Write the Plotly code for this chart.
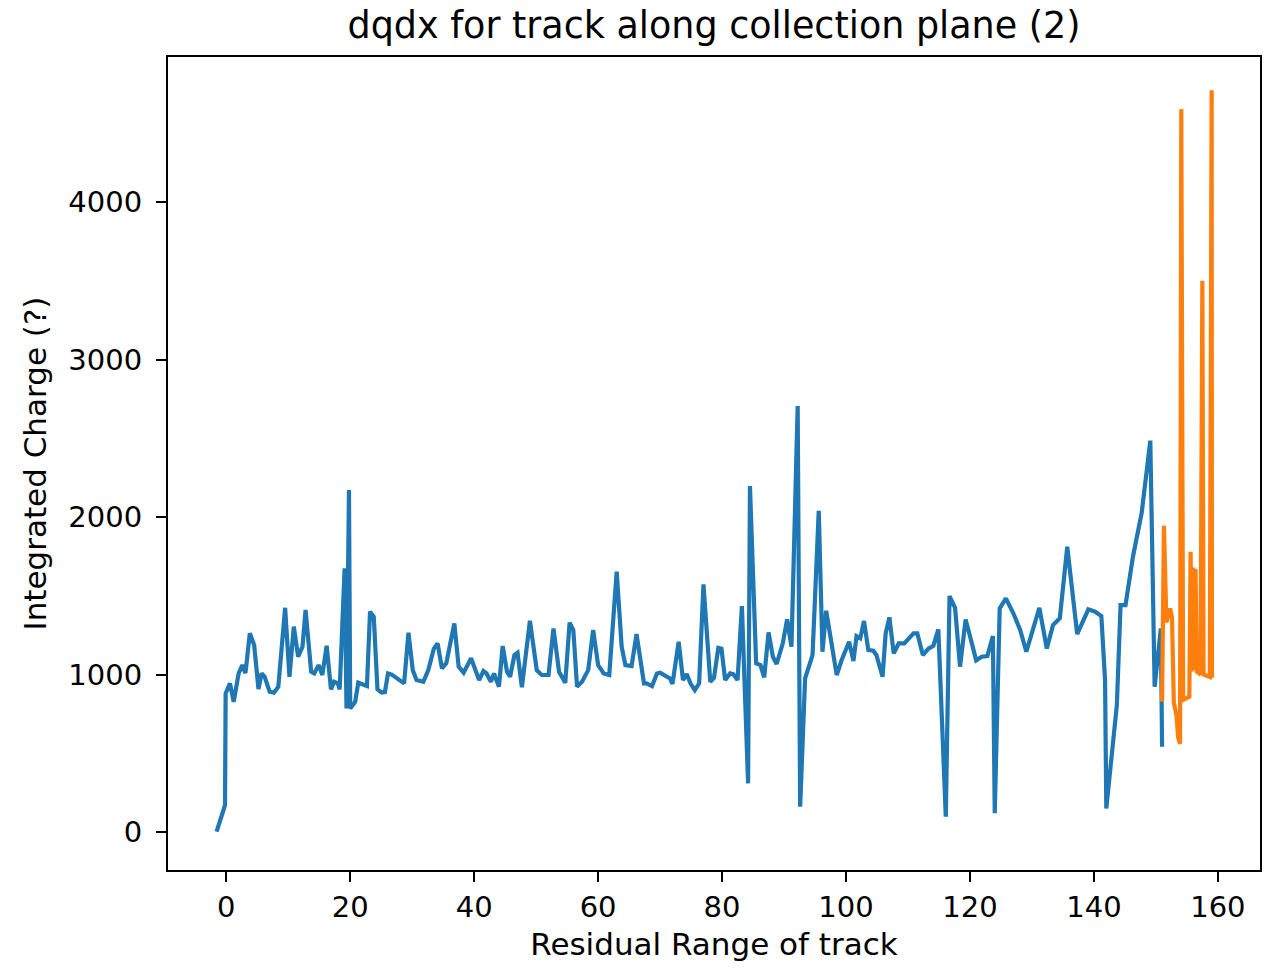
import plotly.graph_objects as go

# Blue series (collection plane track, main part)
blue_x = [-1.56, -0.2, -0.1, 0.6, 1.2, 2.0, 2.6, 3.1, 3.8, 4.5, 5.2, 5.7, 6.2, 7.0, 7.7, 8.4,
          9.5, 10.2, 10.9, 11.6, 12.3, 12.8, 13.7, 14.2, 14.9, 15.5, 16.2, 16.9, 17.4, 18.0,
          18.3, 19.1, 19.4, 19.8, 20.0, 20.8, 21.3, 22.0, 22.7, 23.2, 23.8, 24.4, 25.1, 25.6,
          26.1, 26.7, 27.7, 28.7, 29.4, 30.1, 30.7, 31.8, 32.6, 33.5, 34.1, 34.8, 35.5, 36.8,
          37.5, 38.3, 39.5, 40.2, 40.8, 41.5, 42.0, 42.7, 43.2, 44.0, 44.6, 45.3, 45.8, 46.5,
          47.0, 47.7, 48.4, 49.0, 50.1, 50.9, 52.0, 52.8, 53.7, 54.7, 55.4, 56.0, 56.6, 57.4,
          58.4, 59.2, 60.0, 60.9, 61.8, 63.0, 63.8, 64.4, 65.4, 66.2, 67.4, 67.8, 68.7, 69.5,
          70.0, 70.8, 71.6, 72.0, 73.0, 73.7, 74.3, 74.9, 75.6, 76.3, 77.0, 78.1, 78.7, 79.4,
          79.9, 80.5, 81.3, 81.8, 82.5, 83.2, 83.7, 84.2, 84.5, 85.5, 86.2, 86.8, 87.5, 88.2,
          88.8, 89.8, 90.5, 91.2, 92.2, 92.6, 93.4, 94.6, 95.6, 96.2, 96.8, 97.6, 98.5, 99.3,
          100.5, 101.2, 101.7, 102.3, 102.9, 103.6, 104.4, 104.9, 105.9, 106.4, 107.0, 107.7,
          108.5, 109.4, 110.9, 111.5, 112.4, 113.3, 114.1, 114.9, 116.1, 116.7, 117.6, 118.4,
          119.3, 120.2, 121.0, 121.9, 122.8, 123.7, 124.0, 124.8, 125.8, 127.0, 128.1, 129.1,
          131.2, 132.4, 133.4, 134.5, 135.7, 137.3, 139.1, 140.2, 141.2, 141.8, 142.0, 143.7,
          144.3, 145.1, 146.3, 147.7, 149.1, 149.8, 150.8, 151.0]
blue_y = [2, 171, 880, 944, 827, 1007, 1060, 1009, 1262, 1187, 908, 1007, 986, 891, 885, 923,
          1424, 986, 1304, 1113, 1177, 1410, 1018, 1007, 1060, 997, 1183, 906, 954, 944,
          906, 1674, 785, 2171, 785, 827, 948, 940, 927, 1399, 1367, 906, 885, 888,
          1007, 1000, 969, 944, 1266, 1028, 965, 954, 1028, 1165, 1198, 1039, 1071, 1325,
          1050, 1012, 1103, 1018, 965, 1022, 1007, 954, 1007, 923, 1181, 1018, 986, 1124,
          1138, 919, 1134, 1342, 1028, 997, 997, 1293, 1018, 948, 1329, 1283, 923, 954,
          1028, 1283, 1060, 1007, 997, 1653, 1177, 1060, 1054, 1257, 944, 944, 927, 1007,
          1012, 990, 975, 940, 1208, 965, 1003, 944, 901, 944, 1572, 954, 980, 1170,
          1165, 965, 1007, 1003, 965, 1435, 880, 309, 2197, 1071, 1060, 982, 1268, 1113,
          1067, 1198, 1350, 1177, 2705, 161, 975, 1124, 2040, 1145, 1405, 1230, 997, 1092,
          1208, 1086, 1244, 1230, 1340, 1156, 1151, 1124, 986, 1262, 1363, 1134,
          1198, 1198, 1262, 1262, 1124, 1165, 1183, 1287, 97, 1498, 1424, 1050,
          1350, 1215, 1090, 1113, 1117, 1244, 119, 1420, 1484, 1389, 1283, 1145,
          1424, 1165, 1314, 1357, 1811, 1257, 1414, 1399, 1371, 965, 150, 806,
          1441, 1441, 1748, 2024, 2485, 923, 1293, 542]

# Orange series (end of track)
orange_x = [151.0, 151.3, 151.7, 152.3, 152.6, 152.9, 153.3, 153.6, 153.9, 154.1, 154.4, 154.9,
            155.4, 155.6, 155.8, 156.0, 156.2, 156.4, 156.6, 156.9, 157.2, 157.5, 157.7, 158.0,
            158.4, 158.7, 159.0, 159.05]
orange_y = [827, 1945, 1330, 1420, 1360, 820, 750, 600, 560, 4590, 840, 850,
            860, 1780, 1020, 1680, 1030, 1670, 1020, 1010, 1000, 3500, 1000, 995,
            990, 985, 4710, 980]

x_ticks = [0, 20, 40, 60, 80, 100, 120, 140, 160]
y_ticks = [0, 1000, 2000, 3000, 4000]

FONT = "DejaVu Sans"
W, H = 1281, 969

fig = go.Figure()
fig.add_trace(go.Scatter(x=blue_x, y=blue_y, mode="lines",
                         line=dict(color="#1f77b4", width=4.2), showlegend=False))
fig.add_trace(go.Scatter(x=orange_x, y=orange_y, mode="lines",
                         line=dict(color="#ff7f0e", width=4.2), showlegend=False))

axis_common = dict(showgrid=False, zeroline=False, showline=True, linecolor="black",
                   linewidth=2.2, mirror=True, ticks="outside", ticklen=10, tickwidth=2.2,
                   tickcolor="black", tickfont=dict(family=FONT, size=29, color="black"))

fig.update_xaxes(range=[-9.4, 166.8], tickvals=x_ticks, ticktext=[str(v) for v in x_ticks],
                 title=dict(text="Residual Range of track",
                            font=dict(family=FONT, size=31, color="black"), standoff=10),
                 **axis_common)
fig.update_yaxes(range=[-241, 4921], tickvals=y_ticks, ticktext=[str(v) for v in y_ticks],
                 ticklabelstandoff=8,
                 title=dict(text="Integrated Charge (?)",
                            font=dict(family=FONT, size=31, color="black"), standoff=12),
                 **axis_common)

fig.update_layout(
    width=W, height=H,
    margin=dict(l=168, r=21, t=57, b=99, autoexpand=False),
    paper_bgcolor="white", plot_bgcolor="white",
    title=dict(text="dqdx for track along collection plane (2)", x=0.5, xref="paper",
               xanchor="center", y=1 - 25 / H, yref="container", yanchor="middle",
               font=dict(family=FONT, size=36.5, color="black")),
)

fig.write_html("out.html", config={"displayModeBar": False},
               post_script="document.body.style.margin='0';document.body.style.overflow='hidden';")
